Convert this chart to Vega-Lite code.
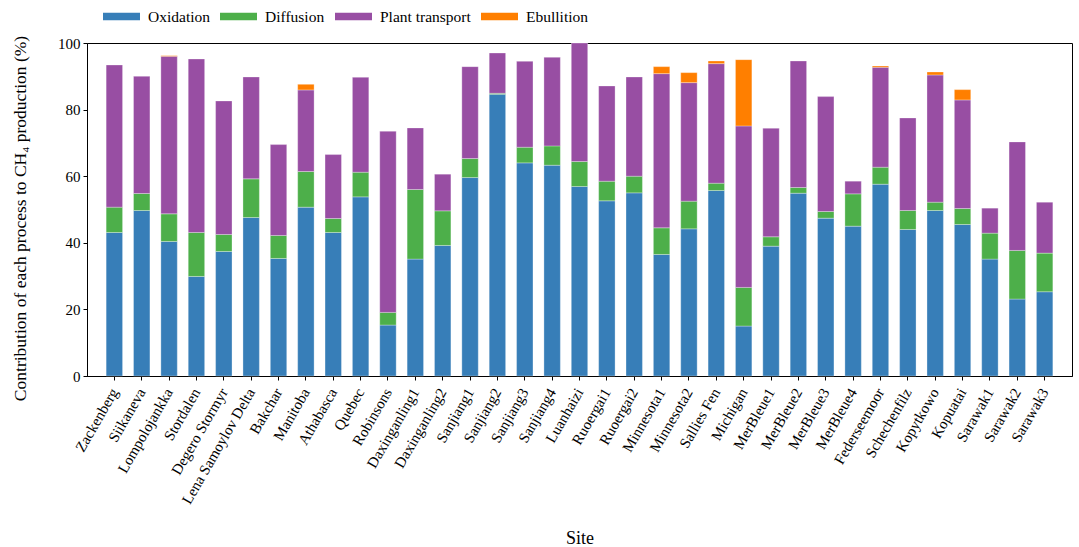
{
  "$schema": "https://vega.github.io/schema/vega-lite/v6.json",
  "width": 985,
  "height": 333,
  "autosize": "none",
  "padding": {"left": 87, "top": 43, "right": 7, "bottom": 171},
  "config": {
    "font": "Liberation Serif",
    "view": {"stroke": "black", "strokeWidth": 1},
    "axis": {"labelFont": "Liberation Serif", "titleFont": "Liberation Serif", "labelColor": "black", "titleColor": "black", "domainColor": "black", "tickColor": "black", "grid": false, "titleFontWeight": "normal"},
    "legend": {"labelFont": "Liberation Serif", "labelColor": "black"}
  },
  "data": {
    "values": [
      {"site": "Zackenberg", "O": 43.1, "D": 50.7, "P": 93.4},
      {"site": "Siikaneva", "O": 49.7, "D": 54.8, "P": 90.0},
      {"site": "Lompolojankka", "O": 40.4, "D": 48.7, "P": 96.0, "E": 96.2},
      {"site": "Stordalen", "O": 29.9, "D": 43.1, "P": 95.2},
      {"site": "Degero Stormyr", "O": 37.4, "D": 42.5, "P": 82.6},
      {"site": "Lena Samoylov Delta", "O": 47.6, "D": 59.2, "P": 89.8},
      {"site": "Bakchar", "O": 35.3, "D": 42.2, "P": 69.5},
      {"site": "Manitoba", "O": 50.7, "D": 61.4, "P": 85.9, "E": 87.6},
      {"site": "Athabasca", "O": 43.1, "D": 47.3, "P": 66.5},
      {"site": "Quebec", "O": 53.8, "D": 61.2, "P": 89.7},
      {"site": "Robinsons", "O": 15.3, "D": 19.1, "P": 73.5},
      {"site": "Daxinganling1", "O": 35.1, "D": 56.0, "P": 74.5},
      {"site": "Daxinganling2", "O": 39.2, "D": 49.6, "P": 60.6},
      {"site": "Sanjiang1", "O": 59.6, "D": 65.3, "P": 92.9},
      {"site": "Sanjiang2", "O": 84.6, "D": 84.9, "P": 97.0},
      {"site": "Sanjiang3", "O": 64.0, "D": 68.7, "P": 94.5},
      {"site": "Sanjiang4", "O": 63.3, "D": 69.1, "P": 95.7},
      {"site": "Luanhaizi", "O": 56.9, "D": 64.4, "P": 100.0},
      {"site": "Ruoergai1", "O": 52.6, "D": 58.5, "P": 87.1},
      {"site": "Ruoergai2", "O": 55.0, "D": 60.0, "P": 89.8},
      {"site": "Minnesota1", "O": 36.5, "D": 44.5, "P": 90.8, "E": 92.9},
      {"site": "Minnesota2", "O": 44.2, "D": 52.5, "P": 88.1, "E": 91.1},
      {"site": "Sallies Fen", "O": 55.7, "D": 57.9, "P": 93.8, "E": 94.6},
      {"site": "Michigan", "O": 15.0, "D": 26.6, "P": 75.1, "E": 95.0},
      {"site": "MerBleue1", "O": 39.0, "D": 41.8, "P": 74.4},
      {"site": "MerBleue2", "O": 54.9, "D": 56.6, "P": 94.6},
      {"site": "MerBleue3", "O": 47.4, "D": 49.4, "P": 83.9},
      {"site": "MerBleue4", "O": 45.0, "D": 54.7, "P": 58.5},
      {"site": "Federseemoor", "O": 57.6, "D": 62.7, "P": 92.7, "E": 93.1},
      {"site": "Schechenfilz", "O": 44.0, "D": 49.7, "P": 77.5},
      {"site": "Kopytkowo", "O": 49.7, "D": 52.2, "P": 90.4, "E": 91.3},
      {"site": "Kopuatai", "O": 45.5, "D": 50.3, "P": 82.9, "E": 86.0},
      {"site": "Sarawak1", "O": 35.1, "D": 42.9, "P": 50.4},
      {"site": "Sarawak2", "O": 23.1, "D": 37.7, "P": 70.3},
      {"site": "Sarawak3", "O": 25.3, "D": 36.9, "P": 52.2}
    ]
  },
  "encoding": {
    "x": {
      "field": "site", "type": "nominal", "sort": null,
      "scale": {"paddingInner": 0.4, "paddingOuter": 0.7},
      "axis": {
        "title": "Site", "titleFontSize": 18, "titleY": 167, "titleBaseline": "alphabetic",
        "labelAngle": -60, "labelFontSize": 15, "labelAlign": "right", "labelBaseline": "middle",
        "tickSize": 4, "labelPadding": 9, "domain": true
      }
    },
    "y": {
      "type": "quantitative",
      "scale": {"domain": [0, 100], "nice": false},
      "axis": {
        "title": "Contribution of each process to CH₄ production (%)",
        "titleFontSize": 17.5, "titlePadding": 28, "titleY": 175,
        "values": [0, 20, 40, 60, 80, 100], "labelFontSize": 15, "tickSize": 4, "labelPadding": 3
      }
    }
  },
  "layer": [
    {
      "mark": {"type": "bar", "stroke": "white", "strokeWidth": 0.5, "strokeOpacity": 0.6},
      "encoding": {
        "y": {"field": "O", "type": "quantitative"},
        "y2": {"datum": 0},
        "color": {
          "datum": "Oxidation",
          "scale": {"domain": ["Oxidation", "Diffusion", "Plant transport", "Ebullition"], "range": ["#377eb8", "#4daf4a", "#984ea3", "#ff7f00"]},
          "legend": {
            "title": null, "orient": "none", "direction": "horizontal", "legendX": 16, "legendY": -45,
            "symbolType": "M-1,-0.2H1V0.2H-1Z", "symbolSize": 1369, "symbolStrokeWidth": 0, "symbolOpacity": 1,
            "labelFont": "Liberation Serif", "labelFontSize": 15.5, "labelColor": "black", "labelOffset": 8, "columnPadding": 10
          }
        }
      }
    },
    {
      "mark": {"type": "bar", "stroke": "white", "strokeWidth": 0.5, "strokeOpacity": 0.6},
      "encoding": {
        "y": {"field": "D", "type": "quantitative"},
        "y2": {"field": "O"},
        "color": {"datum": "Diffusion"}
      }
    },
    {
      "mark": {"type": "bar", "stroke": "white", "strokeWidth": 0.5, "strokeOpacity": 0.6},
      "encoding": {
        "y": {"field": "P", "type": "quantitative"},
        "y2": {"field": "D"},
        "color": {"datum": "Plant transport"}
      }
    },
    {
      "mark": {"type": "bar", "stroke": "white", "strokeWidth": 0.5, "strokeOpacity": 0.6},
      "encoding": {
        "y": {"field": "E", "type": "quantitative"},
        "y2": {"field": "P"},
        "color": {"datum": "Ebullition"}
      }
    }
  ]
}
